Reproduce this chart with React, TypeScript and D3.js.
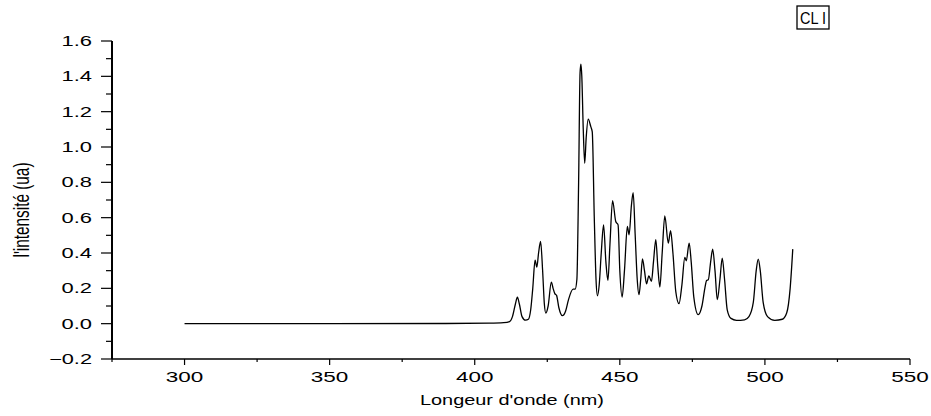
import React from "react";
import * as d3 from "d3";

const wavelength: number[] = [
  300, 350, 390, 405, 410, 412, 413, 414, 414.7, 415.4, 416.3, 417.5, 418.5, 419.3, 420, 420.8, 421.4, 422.0, 422.7, 423.4,
  424.0, 424.5, 425.3, 426.4, 427.0, 427.6, 428.2, 429.0, 430.2, 431.3, 432.3, 433.9, 434.6, 435.2, 435.8, 436.3, 436.6,
  436.9, 437.4, 437.9, 438.4, 439.1, 440.0, 440.5, 441.2, 441.8, 442.3, 442.9, 443.6, 444.4, 445.2, 445.9, 446.6, 447.5,
  448.6, 449.4, 450.0, 450.8, 451.6, 452.6, 453.2, 454.0, 454.6, 455.3, 456.0, 456.6, 457.2, 457.8, 458.5, 459.2, 460.0,
  460.9, 461.6, 462.4, 463.1, 463.8, 464.6, 465.5, 466.7, 467.5, 468.3, 469.3, 470.4, 471.4, 472.4, 472.9, 473.9, 474.6,
  475.5, 477.0, 478.3, 479.3, 479.9, 480.5, 481.3, 482.0, 482.8, 483.6, 484.5, 485.3, 486.1, 487.0, 488.3, 490.2, 493.0,
  494.5, 496.0, 497.0, 497.7, 498.4, 499.4, 500.9, 503.4, 506.0, 507.5, 508.7, 509.6,
];

const intensity: number[] = [
  0, 0, 0.001, 0.003, 0.006, 0.012, 0.04, 0.11, 0.15, 0.11, 0.04, 0.02, 0.025, 0.08, 0.2, 0.36, 0.32, 0.4, 0.465, 0.3,
  0.11, 0.06, 0.1, 0.235, 0.2, 0.17, 0.16, 0.09, 0.045, 0.07, 0.135, 0.195, 0.195, 0.25, 0.8, 1.42, 1.469,
  1.4, 1.1, 0.908, 1.05, 1.158, 1.115, 1.086, 0.6, 0.25, 0.158, 0.22, 0.4, 0.559, 0.35, 0.245, 0.45, 0.697,
  0.578, 0.559, 0.3, 0.151, 0.3, 0.55, 0.503, 0.67, 0.742, 0.5, 0.25, 0.164, 0.25, 0.367, 0.3, 0.226, 0.271,
  0.239, 0.35, 0.475, 0.32, 0.207, 0.4, 0.61, 0.456, 0.527, 0.4, 0.18, 0.113, 0.22, 0.375, 0.356, 0.456, 0.35,
  0.15, 0.051, 0.1, 0.2, 0.245, 0.249, 0.35, 0.422, 0.3, 0.136, 0.25, 0.371, 0.25, 0.08, 0.03, 0.019, 0.022,
  0.04, 0.12, 0.3, 0.365, 0.3, 0.12, 0.04, 0.019, 0.025, 0.06, 0.2, 0.422,
];

const xMajorTicks: number[] = [300, 350, 400, 450, 500, 550];
const xMinorTicks: number[] = [275, 325, 375, 425, 475, 525];
const yMajorTicks: number[] = [-0.2, 0.0, 0.2, 0.4, 0.6, 0.8, 1.0, 1.2, 1.4, 1.6];
const yMinorTicks: number[] = [-0.1, 0.1, 0.3, 0.5, 0.7, 0.9, 1.1, 1.3, 1.5];

const xTitle = "Longeur d'onde (nm)";
const yTitle = "l'intensité (ua)";
const legendLabel = "CL I";

const FONT = "'Liberation Sans', Arial, sans-serif";

export default function App() {
  const W = 931;
  const H = 416;
  const x = d3.scaleLinear().domain([275, 550]).range([112, 910]);
  const y = d3.scaleLinear().domain([-0.2, 1.6]).range([359, 41]);

  const pts: [number, number][] = wavelength.map((w, i) => [w, intensity[i]]);
  const line = d3
    .line<[number, number]>()
    .x((d) => x(d[0]))
    .y((d) => y(d[1]))
    .curve(d3.curveMonotoneX);

  const x0 = x(275);
  const y0 = y(-0.2);

  const charW = (s: string) =>
    s.split("").reduce((a, c) => a + (c === "." ? 5.5 : c === "-" ? 7 : 12.5), 0);

  return (
    <svg
      width={W}
      height={H}
      style={{ position: "fixed", left: 0, top: 0, background: "#fff" }}
      fontFamily={FONT}
    >
      <rect x={0} y={0} width={W} height={H} fill="#fff" />
      {/* data line */}
      <path d={line(pts) || ""} fill="none" stroke="#000" strokeWidth={1.3} strokeLinejoin="round" />

      {/* x axis */}
      <line x1={x0} x2={x(550)} y1={y0} y2={y0} stroke="#000" strokeWidth={1.5} />
      {xMajorTicks.map((t) => (
        <g key={"xM" + t}>
          <line x1={x(t)} x2={x(t)} y1={y0} y2={y0 + 6} stroke="#000" strokeWidth={1.2} />
          <text
            x={x(t)}
            y={381.5}
            textAnchor="middle"
            fontSize={14}
            textLength={charW(String(t))}
            lengthAdjust="spacingAndGlyphs"
          >
            {String(t)}
          </text>
        </g>
      ))}
      {xMinorTicks.map((t) => (
        <line key={"xm" + t} x1={x(t)} x2={x(t)} y1={y0} y2={y0 + 3} stroke="#000" strokeWidth={1.2} />
      ))}

      {/* y axis */}
      <line x1={x0} x2={x0} y1={y(1.6)} y2={y0} stroke="#000" strokeWidth={2} />
      {yMajorTicks.map((t) => {
        const lbl = d3.format(".1f")(t);
        return (
          <g key={"yM" + t}>
            <line x1={x0 - 11} x2={x0} y1={y(t)} y2={y(t)} stroke="#000" strokeWidth={1.2} />
            <text
              x={92}
              y={y(t) + 5}
              textAnchor="end"
              fontSize={14}
              textLength={charW(lbl)}
              lengthAdjust="spacingAndGlyphs"
            >
              {lbl}
            </text>
          </g>
        );
      })}
      {yMinorTicks.map((t) => (
        <line key={"ym" + t} x1={x0 - 6} x2={x0} y1={y(t)} y2={y(t)} stroke="#000" strokeWidth={1.2} />
      ))}

      {/* titles */}
      <text
        x={512}
        y={405}
        textAnchor="middle"
        fontSize={15}
        textLength={184}
        lengthAdjust="spacingAndGlyphs"
      >
        {xTitle}
      </text>
      <g transform="translate(29,210) scale(1.5,1) rotate(-90)">
        <text
          x={0}
          y={0}
          textAnchor="middle"
          fontSize={15}
          textLength={95}
          lengthAdjust="spacingAndGlyphs"
        >
          {yTitle}
        </text>
      </g>

      {/* legend box */}
      <rect x={797} y={6} width={32} height={23} fill="#fff" stroke="#000" strokeWidth={1.3} />
      <text
        x={813}
        y={24}
        textAnchor="middle"
        fontSize={17}
        textLength={26}
        lengthAdjust="spacingAndGlyphs"
      >
        {legendLabel}
      </text>
    </svg>
  );
}
